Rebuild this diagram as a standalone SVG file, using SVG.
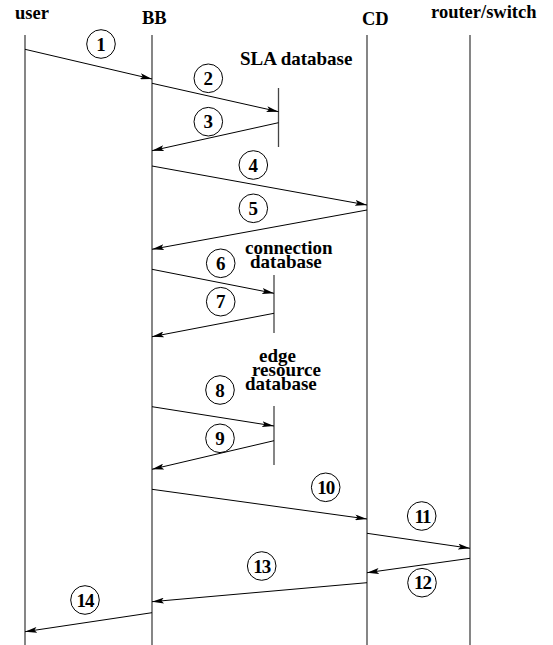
<svg xmlns="http://www.w3.org/2000/svg" width="553" height="645" viewBox="0 0 553 645">
<defs>
<style>
.t{font-family:"Liberation Serif","Times New Roman",serif;font-weight:bold;fill:#000}
.h{font-size:18.5px}
.n{font-size:19px;text-anchor:middle}
.life{stroke:#444;stroke-width:1.3;fill:none}
.bar{stroke:#444;stroke-width:1.3;fill:none}
.msg{stroke:#000;stroke-width:1;fill:none;marker-end:url(#ah)}
.c{fill:none;stroke:#000;stroke-width:1}
</style>
<marker id="ah" viewBox="0 0 12 6" refX="12" refY="3" markerWidth="12" markerHeight="6" markerUnits="userSpaceOnUse" orient="auto">
<path d="M0,0 L12,3 L0,6 L2.5,3 z" fill="#000"/>
</marker>
</defs>
<rect width="553" height="645" fill="#fff"/>
<g id="lifelines">
<g id="user"><line class="life" x1="25" y1="35" x2="25" y2="645"/><text class="t h" x="15" y="19">user</text></g>
<g id="BB"><line class="life" x1="152" y1="35" x2="152" y2="645"/><text class="t h" x="142" y="24">BB</text></g>
<g id="CD"><line class="life" x1="367" y1="35" x2="367" y2="645"/><text class="t h" x="362" y="25">CD</text></g>
<g id="router"><line class="life" x1="470" y1="35" x2="470" y2="645"/><text class="t h" x="431" y="18">router/switch</text></g>
<g id="sla-db"><line class="bar" x1="278.5" y1="88" x2="278.5" y2="147"/><text class="t h" x="240" y="64.5" style="font-size:19px">SLA database</text></g>
<g id="conn-db"><line class="bar" x1="274" y1="275" x2="274" y2="333"/><text class="t" style="font-size:19px" x="245" y="254">connection</text><text class="t" style="font-size:19px" x="250" y="268">database</text></g>
<g id="edge-db"><line class="bar" x1="274" y1="406" x2="274" y2="465"/><text class="t" style="font-size:19px" x="259" y="362">edge</text><text class="t" style="font-size:19px" x="252" y="376">resource</text><text class="t" style="font-size:19px" x="245" y="390">database</text></g>
</g>
<g id="connectors">
<line class="msg" x1="25" y1="49.3" x2="152" y2="79"/>
<line class="msg" x1="152" y1="83.3" x2="278.5" y2="111.7"/>
<line class="msg" x1="278.5" y1="122.7" x2="152" y2="150.7"/>
<line class="msg" x1="152" y1="166" x2="367" y2="205"/>
<line class="msg" x1="367" y1="210" x2="152" y2="249.3"/>
<line class="msg" x1="152" y1="269.3" x2="274" y2="293.3"/>
<line class="msg" x1="274" y1="313.3" x2="152" y2="336.7"/>
<line class="msg" x1="152" y1="406.7" x2="274" y2="426"/>
<line class="msg" x1="274" y1="440.7" x2="152" y2="469.3"/>
<line class="msg" x1="152" y1="489.3" x2="367" y2="519"/>
<line class="msg" x1="367" y1="533.3" x2="470" y2="548.3"/>
<line class="msg" x1="470" y1="558.3" x2="367" y2="572.7"/>
<line class="msg" x1="367" y1="582.7" x2="152" y2="601.7"/>
<line class="msg" x1="152" y1="612.7" x2="25" y2="631.7"/>
</g>
<g id="labels">
<g id="m1"><circle class="c" cx="101" cy="44" r="14.3"/><text class="t n" x="101" y="50.5">1</text></g>
<g id="m2"><circle class="c" cx="208.3" cy="78.3" r="14.3"/><text class="t n" x="208.3" y="84.8">2</text></g>
<g id="m3"><circle class="c" cx="208.3" cy="121.7" r="14.3"/><text class="t n" x="208.3" y="128.2">3</text></g>
<g id="m4"><circle class="c" cx="253.3" cy="165" r="14.3"/><text class="t n" x="253.3" y="171.5">4</text></g>
<g id="m5"><circle class="c" cx="253.3" cy="208.3" r="14.3"/><text class="t n" x="253.3" y="214.8">5</text></g>
<g id="m6"><circle class="c" cx="220.7" cy="263.3" r="14.3"/><text class="t n" x="220.7" y="269.8">6</text></g>
<g id="m7"><circle class="c" cx="220.7" cy="301.7" r="14.3"/><text class="t n" x="220.7" y="308.2">7</text></g>
<g id="m8"><circle class="c" cx="220" cy="390" r="14.3"/><text class="t n" x="220" y="396.5">8</text></g>
<g id="m9"><circle class="c" cx="220" cy="438.3" r="14.3"/><text class="t n" x="220" y="444.8">9</text></g>
<g id="m10"><circle class="c" cx="325.7" cy="487.3" r="14.3"/><text class="t n" x="325.7" y="493.8" style="letter-spacing:-1px">10</text></g>
<g id="m11"><circle class="c" cx="421.7" cy="516" r="14.3"/><text class="t n" x="422.5" y="522.5" style="letter-spacing:-1px">11</text></g>
<g id="m12"><circle class="c" cx="422" cy="582.7" r="14.3"/><text class="t n" x="422.5" y="589.2" style="letter-spacing:-1px">12</text></g>
<g id="m13"><circle class="c" cx="261.7" cy="566" r="14.3"/><text class="t n" x="261.7" y="572.5" style="letter-spacing:-1px">13</text></g>
<g id="m14"><circle class="c" cx="85" cy="600" r="14.3"/><text class="t n" x="85" y="606.5" style="letter-spacing:-1px">14</text></g>
</g>
</svg>
